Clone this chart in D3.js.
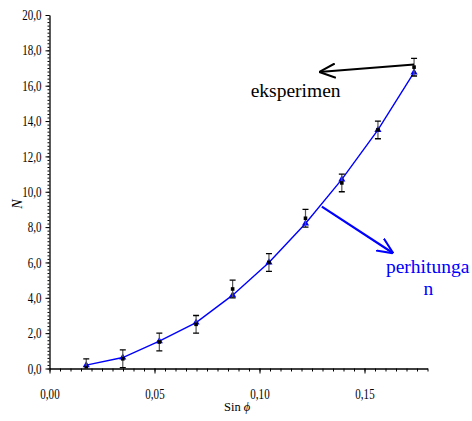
<!DOCTYPE html>
<html>
<head>
<meta charset="utf-8">
<style>
  body { margin: 0; background: white; }
  svg text { font-family: "Liberation Serif", "DejaVu Serif", serif; }
</style>
</head>
<body>
<svg id="mysvg"></svg>
<script src="https://d3js.org/d3.v7.min.js"></script>
<script>

// data
var sinPhi       = [0.0175, 0.0349, 0.0523, 0.0698, 0.0872, 0.1045, 0.1219, 0.1392, 0.1564, 0.1736];
var nEksperimen  = [0.05, 0.55, 1.5, 2.5, 4.5, 6.0, 8.5, 10.5, 13.5, 17.05];
var nError       = [0.5, 0.5, 0.5, 0.5, 0.5, 0.5, 0.5, 0.5, 0.5, 0.5];
var nPerhitungan = [0.19, 0.62, 1.55, 2.6, 4.15, 6.0, 8.2, 10.7, 13.5, 16.75];
var xTicks = [0, 0.05, 0.10, 0.15];
var yTicks = [0, 2, 4, 6, 8, 10, 12, 14, 16, 18, 20];

var width = 472, height = 421;
var serif = "'Liberation Serif', 'DejaVu Serif', serif";

var svg = d3.select("#mysvg")
    .attr("width", width)
    .attr("height", height);

var xScale = d3.scaleLinear()
    .domain([0, 0.18])
    .range([49.5, 427.5]);

var yScale = d3.scaleLinear()
    .domain([0, 20])
    .range([368.5, 15]);

var loc = d3.formatLocale({decimal: ",", thousands: ".", grouping: [3], currency: ["", ""]});

// squeeze text a bit, the original font is narrow
function squeeze(sel, k) {
  sel.each(function() {
    var len = this.getComputedTextLength();
    d3.select(this).attr("textLength", len * k).attr("lengthAdjust", "spacingAndGlyphs");
  });
}

svg.append("clipPath").attr("id", "plot")
  .append("rect")
    .attr("x", xScale(0)).attr("y", yScale(20) - 10)
    .attr("width", xScale(0.18) - xScale(0)).attr("height", yScale(0) - yScale(20) + 10);

// x axis, minor ticks then majors
svg.append("g")
    .attr("transform", "translate(0," + yScale(0) + ")")
    .call(d3.axisBottom(xScale).tickValues(d3.range(0, 0.1801, 0.005)).tickSize(3).tickFormat(""))
    .call(function(g) { g.select(".domain").remove(); });

var xAxis = svg.append("g")
    .attr("transform", "translate(0," + yScale(0) + ")")
    .call(d3.axisBottom(xScale).tickValues(xTicks).tickSize(5).tickSizeOuter(0).tickPadding(15).tickFormat(loc.format(".2f")));

// y axis
svg.append("g")
    .attr("transform", "translate(" + xScale(0) + ",0)")
    .call(d3.axisLeft(yScale).tickValues(d3.range(0, 20.01, 0.2)).tickSize(2).tickFormat(""))
    .call(function(g) { g.select(".domain").remove(); });

var yAxis = svg.append("g")
    .attr("transform", "translate(" + xScale(0) + ",0)")
    .call(d3.axisLeft(yScale).tickValues(yTicks).tickSize(4).tickSizeOuter(0).tickPadding(4).tickFormat(loc.format(".1f")));

svg.selectAll("g").attr("font-family", serif);

[xAxis, yAxis].forEach(function(a) {
  a.select(".domain").attr("stroke", "#000").attr("stroke-width", 1.3);
  a.selectAll("text")
    .style("font-family", serif)
    .style("font-size", "14.5px")
    .attr("fill", "#000")
    .call(squeeze, 0.76);
});
svg.selectAll("g line").attr("stroke", "#000");

// axis titles
var xTitle = svg.append("text")
    .attr("x", 224)
    .attr("y", 411)
    .style("font-family", serif)
    .style("font-size", "12.5px");
xTitle.append("tspan").text("Sin ");
xTitle.append("tspan").style("font-style", "italic").text("\u03D5");

svg.append("text")
    .attr("transform", "translate(21.5,204) rotate(-90)")
    .attr("text-anchor", "middle")
    .style("font-family", serif)
    .style("font-size", "14px")
    .style("font-style", "italic")
    .text("N");

// calculated curve
var pts = sinPhi.map(function(s, i) { return {x: s, e: nEksperimen[i], err: nError[i], p: nPerhitungan[i]}; });

var line = d3.line()
    .x(function(d) { return xScale(d.x); })
    .y(function(d) { return yScale(d.p); });

var plot = svg.append("g").attr("clip-path", "url(#plot)");

plot.append("path")
    .datum(pts)
    .attr("d", line)
    .attr("fill", "none")
    .attr("stroke", "#0000ff")
    .attr("stroke-width", 1.4);

plot.selectAll(".tri")
    .data(pts)
    .enter().append("path")
    .attr("class", "tri")
    .attr("d", d3.symbol().type(d3.symbolTriangle).size(22))
    .attr("transform", function(d) { return "translate(" + xScale(d.x) + "," + yScale(d.p) + ")"; })
    .attr("fill", "#0000ff");

// experiment with error bars
var eb = plot.selectAll(".eb")
    .data(pts)
    .enter().append("g")
    .attr("class", "eb");

eb.append("line")
    .attr("x1", function(d) { return xScale(d.x); })
    .attr("x2", function(d) { return xScale(d.x); })
    .attr("y1", function(d) { return yScale(d.e - d.err); })
    .attr("y2", function(d) { return yScale(d.e + d.err); })
    .attr("stroke", "#555")
    .attr("stroke-width", 1.2);

[-1, 1].forEach(function(s) {
  eb.append("line")
    .attr("x1", function(d) { return xScale(d.x) - 3; })
    .attr("x2", function(d) { return xScale(d.x) + 3; })
    .attr("y1", function(d) { return yScale(d.e + s * d.err); })
    .attr("y2", function(d) { return yScale(d.e + s * d.err); })
    .attr("stroke", "#000")
    .attr("stroke-width", 1.3);
});

eb.append("rect")
    .attr("x", function(d) { return xScale(d.x) - 1.8; })
    .attr("y", function(d) { return yScale(d.e) - 1.8; })
    .attr("width", 3.6)
    .attr("height", 3.6)
    .attr("fill", "#000");

// annotations
var defs = svg.append("defs");
[["arrBlack", "#000"], ["arrBlue", "#0000ff"]].forEach(function(m) {
  defs.append("marker")
    .attr("id", m[0])
    .attr("viewBox", "0 0 10 10")
    .attr("refX", 10)
    .attr("refY", 5)
    .attr("markerWidth", 16)
    .attr("markerHeight", 16)
    .attr("markerUnits", "userSpaceOnUse")
    .attr("orient", "auto")
    .append("path")
    .attr("d", "M0,0.5 L10,5 L0,9.5")
    .attr("fill", "none")
    .attr("stroke", m[1])
    .attr("stroke-width", 1.3);
});

svg.append("line")
    .attr("x1", xScale(0.1736)).attr("y1", yScale(17.2))
    .attr("x2", xScale(0.1285)).attr("y2", yScale(16.78))
    .attr("stroke", "#000")
    .attr("stroke-width", 2)
    .attr("marker-end", "url(#arrBlack)");

svg.append("line")
    .attr("x1", xScale(0.1297)).attr("y1", yScale(9.16))
    .attr("x2", xScale(0.1637)).attr("y2", yScale(6.52))
    .attr("stroke", "#0000ff")
    .attr("stroke-width", 2.2)
    .attr("marker-end", "url(#arrBlue)");

svg.append("text")
    .attr("x", xScale(0.0958))
    .attr("y", yScale(15.37))
    .style("font-family", serif)
    .style("font-size", "19.5px")
    .attr("fill", "#000")
    .text("eksperimen");

svg.append("text")
    .attr("x", xScale(0.1602))
    .attr("y", yScale(5.4))
    .style("font-family", serif)
    .style("font-size", "19.5px")
    .attr("fill", "#0000ff")
    .text("perhitunga");

svg.append("text")
    .attr("x", xScale(0.1804))
    .attr("y", yScale(4.15))
    .attr("text-anchor", "middle")
    .style("font-family", serif)
    .style("font-size", "19.5px")
    .attr("fill", "#0000ff")
    .text("n");

</script>
</body>
</html>
